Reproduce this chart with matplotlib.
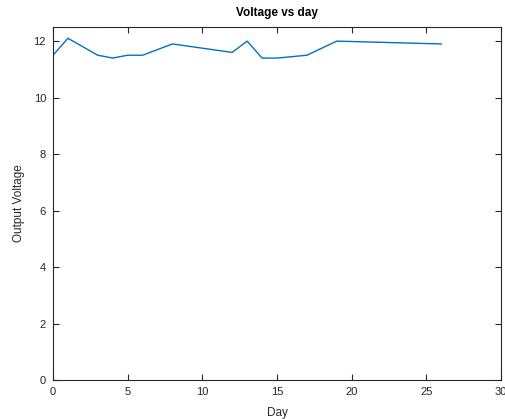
import matplotlib
matplotlib.use("Agg")
import matplotlib.pyplot as plt

days = [0, 1, 3, 4, 5, 6, 8, 12, 13, 14, 15, 17, 19, 26]
voltage = [11.5, 12.1, 11.5, 11.4, 11.5, 11.5, 11.9, 11.6, 12.0, 11.4, 11.4, 11.5, 12.0, 11.9]
xticks = [0, 5, 10, 15, 20, 25, 30]
yticks = [0, 2, 4, 6, 8, 10, 12]

plt.rcParams['font.family'] = ['Liberation Sans', 'DejaVu Sans']
fig = plt.figure(figsize=(5.05, 4.19), dpi=100)
ax = fig.add_axes([53/505, 39/419, 448/505, 353/419])
ax.plot(days, voltage, color='#0072BD', lw=1.0)
ax.set_xlim(0, 30)
ax.set_ylim(0, 12.5)
ax.set_xticks(xticks)
ax.set_yticks(yticks)
ax.tick_params(direction='in', top=True, right=True, length=4, width=0.8,
               labelsize=8, colors='#262626', pad=5)
for s in ax.spines.values():
    s.set_color('#262626')
    s.set_linewidth(0.8)
ax.set_xlabel('Day', fontsize=8.5, color='#262626', labelpad=7)
ax.set_ylabel('Output Voltage', fontsize=8.5, color='#262626', labelpad=6)
ax.set_title('Voltage vs day', fontsize=8.5, fontweight='bold', color='black', pad=8)
fig.savefig('out.png', dpi=100)
